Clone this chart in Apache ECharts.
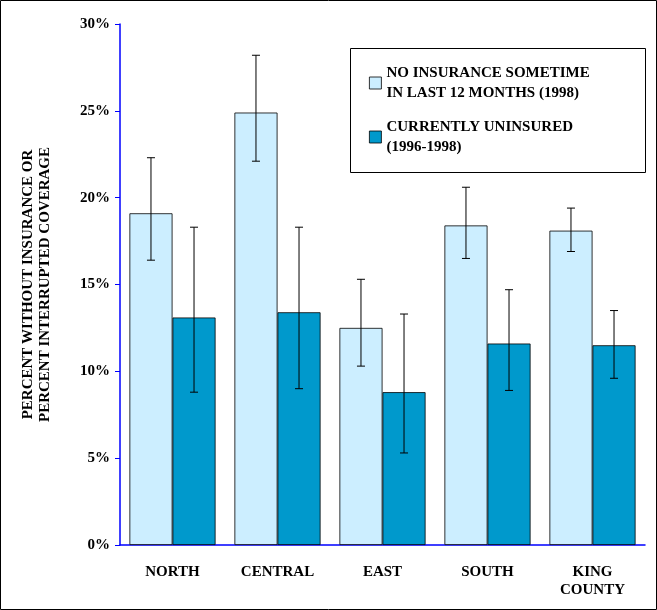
<!DOCTYPE html>
<html><head><meta charset="utf-8">
<script src="https://cdn.jsdelivr.net/npm/echarts@6/dist/echarts.min.js"></script>
<style>html,body{margin:0;padding:0;background:#fff}#c{width:657px;height:610px}</style>
</head><body><div id="c"></div>
<script>
const categories = ['NORTH', 'CENTRAL', 'EAST', 'SOUTH', 'KING\nCOUNTY'];
const noInsurance = [19.1, 24.9, 12.5, 18.4, 18.1];
const noInsuranceLow = [16.4, 22.1, 10.3, 16.5, 16.9];
const noInsuranceHigh = [22.3, 28.2, 15.3, 20.6, 19.4];
const uninsured = [13.1, 13.4, 8.8, 11.6, 11.5];
const uninsuredLow = [8.8, 9.0, 5.3, 8.9, 9.6];
const uninsuredHigh = [18.3, 18.3, 13.3, 14.7, 13.5];

const FONT = '"Liberation Serif", "Times New Roman", serif';
const chart = echarts.init(document.getElementById('c'));

function errSeries(low, high, idx) {
  return {
    type: 'custom',
    z: 10,
    silent: true,
    data: low.map((l, i) => [i, l, high[i]]),
    renderItem: (params, api) => {
      const x = api.value(0);
      const lo = api.coord([x, api.value(1)]);
      const hi = api.coord([x, api.value(2)]);
      const bw = api.size([1, 0])[0];
      const off = (idx === 0 ? -1 : 1) * bw * 0.205;
      const cx = lo[0] + off, w = 4;
      const st = { stroke: '#000', lineWidth: 1 };
      return { type: 'group', children: [
        { type: 'line', shape: { x1: cx, y1: lo[1], x2: cx, y2: hi[1] }, style: st },
        { type: 'line', shape: { x1: cx - w, y1: lo[1], x2: cx + w, y2: lo[1] }, style: st },
        { type: 'line', shape: { x1: cx - w, y1: hi[1], x2: cx + w, y2: hi[1] }, style: st }
      ]};
    }
  };
}

chart.setOption({
  animation: false,
  grid: { left: 120, right: 12, top: 24, bottom: 65 },
  legend: {
    orient: 'vertical',
    left: 364, top: 58,
    itemGap: 14,
    itemWidth: 12, itemHeight: 12,
    icon: 'rect',
    itemStyle: { borderColor: '#000', borderWidth: 0.8 },
    data: ['NO INSURANCE SOMETIME\nIN LAST 12 MONTHS (1998)', 'CURRENTLY UNINSURED\n(1996-1998)'],
    textStyle: { fontFamily: FONT, fontWeight: 'bold', fontSize: 15, color: '#000', lineHeight: 20 }
  },
  xAxis: {
    type: 'category', data: categories,
    axisLine: { lineStyle: { color: '#0000ff', width: 1.5 } },
    axisTick: { lineStyle: { color: '#0000ff' }, length: 5 },
    axisLabel: { fontFamily: FONT, fontWeight: 'bold', fontSize: 15, color: '#000', margin: 18, lineHeight: 18 }
  },
  yAxis: {
    type: 'value', min: 0, max: 30, interval: 5,
    name: 'PERCENT WITHOUT INSURANCE OR\nPERCENT INTERRUPTED COVERAGE',
    nameLocation: 'middle', nameGap: 66, nameRotate: 90,
    nameTextStyle: { fontFamily: FONT, fontWeight: 'bold', fontSize: 15, color: '#000', lineHeight: 17 },
    axisLine: { show: true, lineStyle: { color: '#0000ff', width: 1.5 } },
    axisTick: { show: true, lineStyle: { color: '#0000ff' }, length: 5 },
    splitLine: { show: false },
    axisLabel: { formatter: '{value}%', fontFamily: FONT, fontWeight: 'bold', fontSize: 15, color: '#000', margin: 10 }
  },
  series: [
    { name: 'NO INSURANCE SOMETIME\nIN LAST 12 MONTHS (1998)', type: 'bar', data: noInsurance,
      barWidth: '41%', barGap: '0%',
      itemStyle: { color: '#cceeff', borderColor: '#000', borderWidth: 0.8 } },
    { name: 'CURRENTLY UNINSURED\n(1996-1998)', type: 'bar', data: uninsured,
      barWidth: '41%',
      itemStyle: { color: '#0099cc', borderColor: '#000', borderWidth: 0.8 } },
    errSeries(noInsuranceLow, noInsuranceHigh, 0),
    errSeries(uninsuredLow, uninsuredHigh, 1)
  ],
  graphic: [
    { type: 'rect', shape: { x: 350.5, y: 48.5, width: 295, height: 124 }, style: { fill: '#fff', stroke: '#000', lineWidth: 1 }, z: -1 },
    { type: 'rect', shape: { x: 0.5, y: 0.5, width: 656, height: 609 }, style: { fill: 'none', stroke: '#000', lineWidth: 1 } }
  ]
});
</script></body></html>
